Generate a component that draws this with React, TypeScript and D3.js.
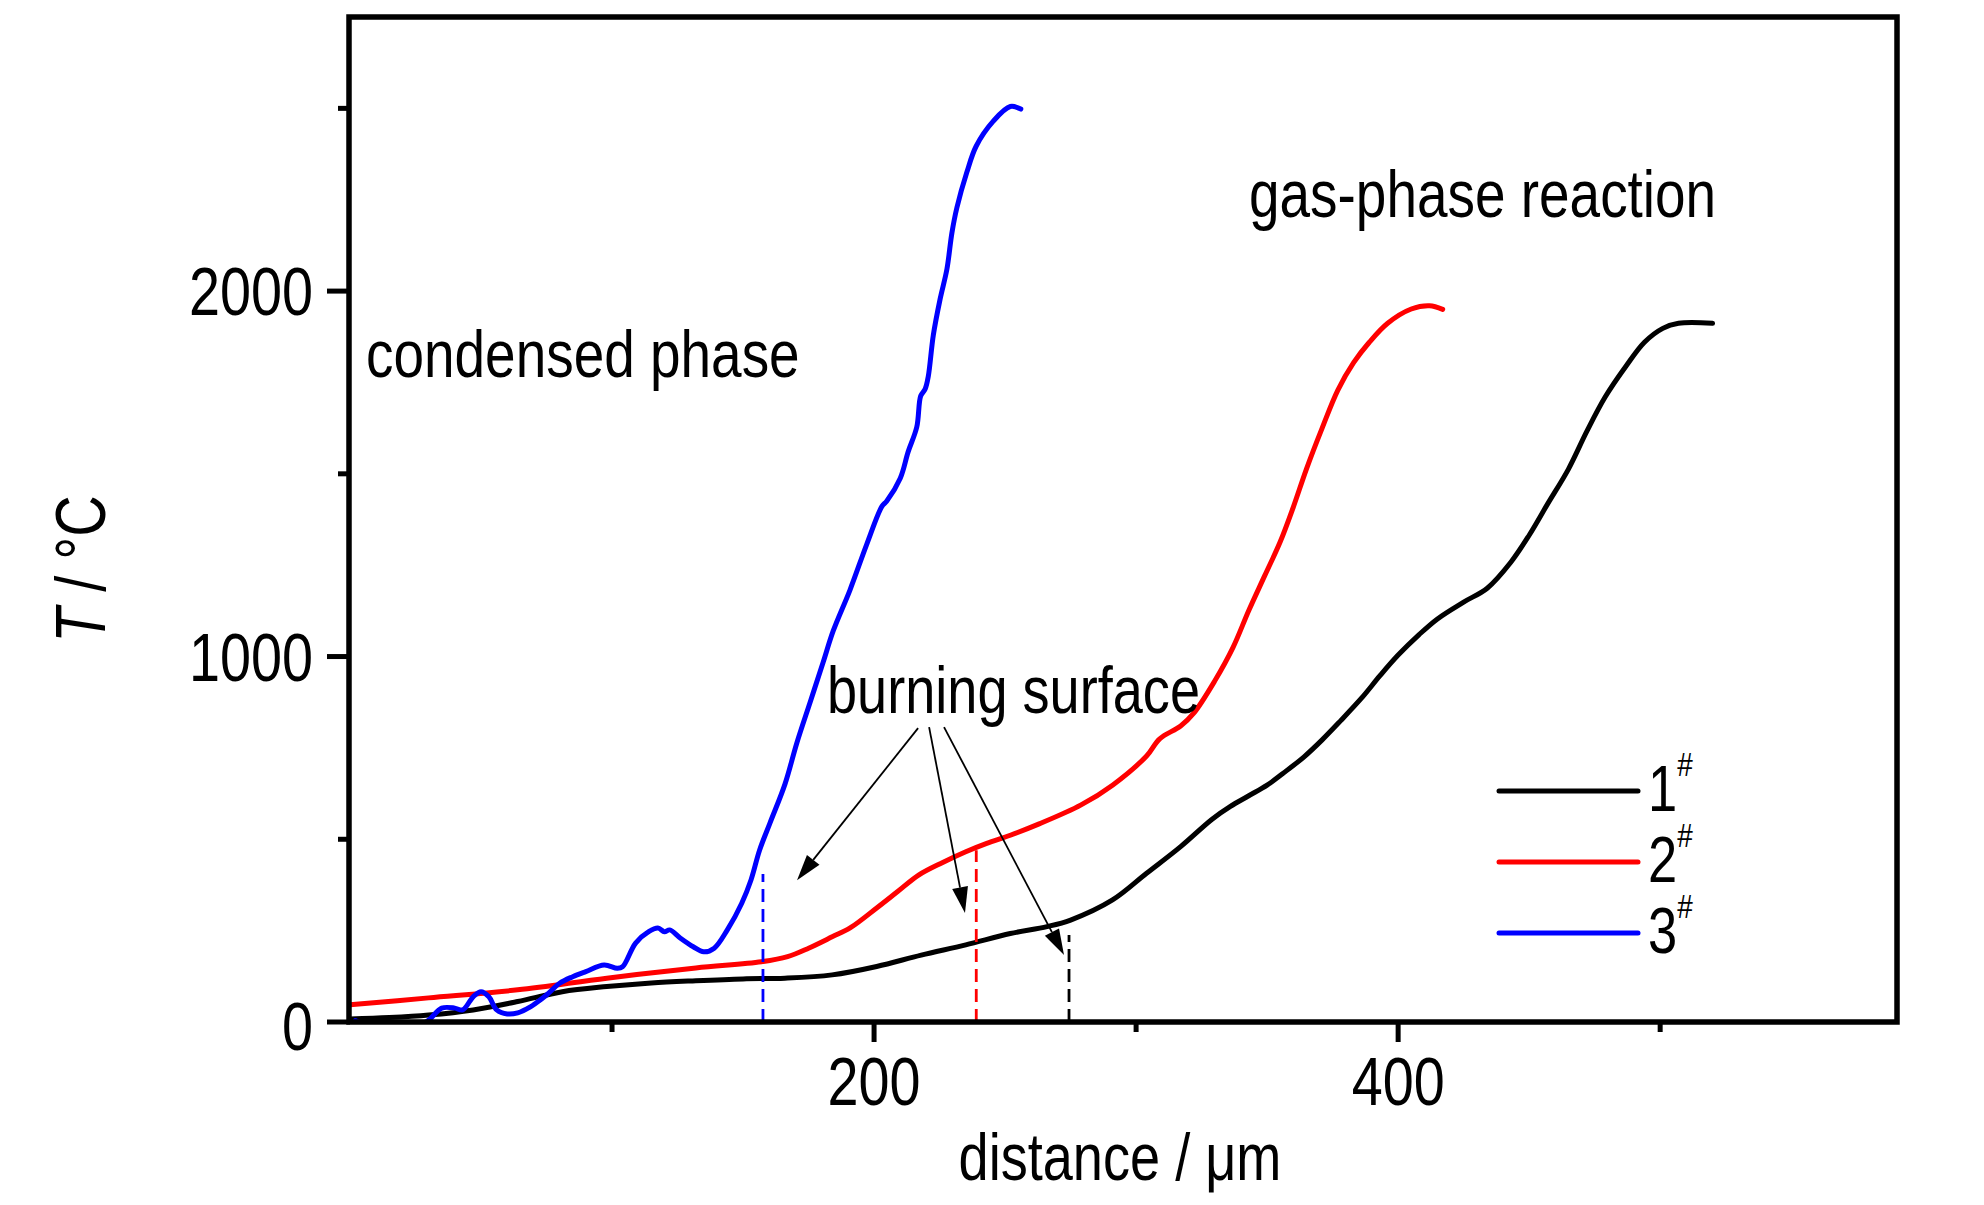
import React from "react";
import { scaleLinear, line, curveCatmullRom } from "d3";

// axis extents
const distanceMax = 590;
const tempMax = 2750;

const xMajorTicks = [200, 400];
const xMinorTicks = [100, 300, 500];
const xTickLabels = ["200", "400"];
const yMajorTicks = [0, 1000, 2000];
const yMinorTicks = [500, 1500, 2500];
const yTickLabels = ["0", "1000", "2000"];

// sample 1# (black)
const sample1X = [0, 15, 30, 47, 64, 81, 98, 115, 132, 150, 166, 184, 201, 218, 235, 252, 266, 275, 291, 304, 317, 329, 336, 343, 350, 356, 364, 371, 378, 386, 393, 400, 408, 415, 425, 434, 443, 450, 457, 465, 472, 479, 487, 494, 501, 507, 520];
const sample1T = [8, 12, 19, 33, 56, 83, 97, 107, 113, 118, 120, 129, 152, 183, 211, 242, 261, 279, 334, 407, 480, 555, 590, 619, 648, 680, 725, 772, 824, 886, 947, 1004, 1060, 1103, 1149, 1187, 1258, 1332, 1417, 1513, 1616, 1710, 1795, 1860, 1898, 1912, 1912];

// sample 2# (red)
const sample2X = [0, 30, 64, 98, 132, 157, 167, 175, 184, 191, 201, 209, 217, 226, 235, 243, 252, 263, 279, 291, 304, 309, 317, 322, 330, 337, 343, 349, 355, 360, 365, 371, 377, 383, 389, 396, 405, 412, 417];
const sample2T = [47, 66, 88, 120, 148, 165, 179, 202, 233, 258, 312, 357, 402, 436, 466, 489, 511, 542, 594, 648, 728, 775, 810, 845, 933, 1025, 1126, 1220, 1314, 1409, 1513, 1625, 1729, 1804, 1860, 1912, 1951, 1960, 1950];

// sample 3# (blue)
const sample3X = [2, 8, 20, 29, 35, 40, 43, 47, 50, 53, 56, 60, 64, 69, 71, 75, 80, 85, 90, 97, 102, 104, 109, 114, 117.5, 120, 122, 126, 131, 135, 139, 144, 149.5, 153, 156.3, 160.3, 166, 170.5, 175.6, 180.6, 184.4, 190.8, 197.2, 203, 204.8, 210, 213, 216.3, 217.8, 219.5, 220.7, 222.6, 225.2, 227.8, 229.7, 231.6, 235.4, 239, 245.5, 252, 256];
const sample3T = [4, -12, -15, 0, 38, 38, 33, 69, 83, 69, 33, 22, 25, 42, 52, 74, 106, 124, 138, 156, 147, 151, 216, 247, 257, 247, 252, 230, 206, 192, 202, 252, 325, 388, 470, 545, 651, 763, 875, 985, 1070, 1182, 1307, 1411, 1425, 1488, 1560, 1628, 1713, 1732, 1767, 1879, 1978, 2060, 2159, 2228, 2325, 2397, 2465, 2505, 2498];

const seriesNames = ["1", "2", "3"];
const seriesColors = ["#000000", "#ff0000", "#0000ff"];

// burning surface positions (dashed markers)
const surfaceX = [274.4, 239, 157.6];
const surfaceT = [238, 470, 405];

// arrows from the "burning surface" label
const arrowFromX = [216.8, 221, 226.7];
const arrowFromT = [804, 807, 807];
const arrowToX = [170.6, 234.7, 272.5];
const arrowToT = [388, 298, 183];

const W = 1984;
const H = 1205;
const left = 350;
const right = 1896;
const top = 17;
const bottom = 1022;
const narrow = 0.82;
const font = "'Liberation Sans', Arial, Helvetica, sans-serif";

const Txt = ({ x, y, size, anchor = "start", rotate = 0, children }: any) => (
  <text
    transform={`translate(${x},${y}) rotate(${rotate}) scale(${narrow},1)`}
    fontSize={size}
    textAnchor={anchor}
    fontFamily={font}
    fill="#000"
  >
    {children}
  </text>
);

const App = () => {
  const xScale = scaleLinear().domain([0, distanceMax]).range([left, right]);
  const yScale = scaleLinear().domain([0, tempMax]).range([bottom, top]);

  const series = [
    sample1X.map((d, i) => [d, sample1T[i]]),
    sample2X.map((d, i) => [d, sample2T[i]]),
    sample3X.map((d, i) => [d, sample3T[i]]),
  ];

  const curve = line<number[]>()
    .x((d) => xScale(d[0]))
    .y((d) => yScale(d[1]))
    .curve(curveCatmullRom.alpha(0.5));

  const legendY = [791, 862, 933];

  return (
    <svg
      width={W}
      height={H}
      style={{ position: "absolute", left: 0, top: 0, background: "#fff" }}
    >
      <defs>
        <clipPath id="plot">
          <rect x={left - 1} y={top} width={right - left + 2} height={bottom - top} />
        </clipPath>
      </defs>
      <rect width={W} height={H} fill="#fff" />

      {/* curves */}
      <g clipPath="url(#plot)" fill="none" strokeLinejoin="round" strokeLinecap="round">
        {series.map((s, i) => (
          <path key={i} d={curve(s) || ""} stroke={seriesColors[i]} strokeWidth={5} />
        ))}
      </g>

      {/* burning surface markers */}
      {surfaceX.map((x, i) => (
        <line
          key={i}
          x1={xScale(x)}
          x2={xScale(x)}
          y1={yScale(0)}
          y2={yScale(surfaceT[i])}
          stroke={seriesColors[i]}
          strokeWidth={2.8}
          strokeDasharray="13 7"
        />
      ))}

      {/* arrows */}
      {arrowFromX.map((fx, i) => {
        const x1 = xScale(fx);
        const y1 = yScale(arrowFromT[i]);
        const x2 = xScale(arrowToX[i]);
        const y2 = yScale(arrowToT[i]);
        const a = Math.atan2(y2 - y1, x2 - x1);
        const len = 26;
        const half = 8;
        const bx = x2 - len * Math.cos(a);
        const by = y2 - len * Math.sin(a);
        const px = -Math.sin(a) * half;
        const py = Math.cos(a) * half;
        return (
          <g key={i}>
            <line x1={x1} y1={y1} x2={bx} y2={by} stroke="#000" strokeWidth={1.8} />
            <path d={`M${x2},${y2}L${bx + px},${by + py}L${bx - px},${by - py}Z`} fill="#000" />
          </g>
        );
      })}

      {/* frame */}
      <rect
        x={left - 1}
        y={top}
        width={right - left + 2}
        height={bottom - top}
        fill="none"
        stroke="#000"
        strokeWidth={5.5}
      />

      {/* x ticks */}
      {xMajorTicks.map((t, i) => (
        <g key={"xm" + t}>
          <line x1={xScale(t)} x2={xScale(t)} y1={bottom} y2={bottom + 20} stroke="#000" strokeWidth={5} />
          <Txt x={xScale(t)} y={1105} size={68} anchor="middle">
            {xTickLabels[i]}
          </Txt>
        </g>
      ))}
      {xMinorTicks.map((t) => (
        <line key={"xn" + t} x1={xScale(t)} x2={xScale(t)} y1={bottom} y2={bottom + 10} stroke="#000" strokeWidth={5} />
      ))}

      {/* y ticks */}
      {yMajorTicks.map((t, i) => (
        <g key={"ym" + t}>
          <line x1={left - 23} x2={left} y1={yScale(t)} y2={yScale(t)} stroke="#000" strokeWidth={5} />
          <Txt x={313} y={yScale(t) + (t === 0 ? 28 : 24)} size={68} anchor="end">
            {yTickLabels[i]}
          </Txt>
        </g>
      ))}
      {yMinorTicks.map((t) => (
        <line key={"yn" + t} x1={left - 12} x2={left} y1={yScale(t)} y2={yScale(t)} stroke="#000" strokeWidth={5} />
      ))}

      {/* axis titles */}
      <Txt x={1120} y={1180} size={66} anchor="middle">
        distance / μm
      </Txt>
      <Txt x={105} y={569} size={70} anchor="middle" rotate={-90}>
        <tspan fontStyle="italic">T</tspan> / °C
      </Txt>

      {/* annotations */}
      <Txt x={366} y={377} size={67}>
        condensed phase
      </Txt>
      <Txt x={1249} y={217} size={67}>
        gas-phase reaction
      </Txt>
      <Txt x={827} y={713} size={66}>
        burning surface
      </Txt>

      {/* legend */}
      {seriesNames.map((n, i) => (
        <g key={n}>
          <line
            x1={1499}
            x2={1638}
            y1={legendY[i]}
            y2={legendY[i]}
            stroke={seriesColors[i]}
            strokeWidth={5}
            strokeLinecap="round"
          />
          <Txt x={1648} y={legendY[i] + 20} size={64}>
            {n}
            <tspan fontSize={34} dy={-35}>
              #
            </tspan>
          </Txt>
        </g>
      ))}
    </svg>
  );
};

export default App;
